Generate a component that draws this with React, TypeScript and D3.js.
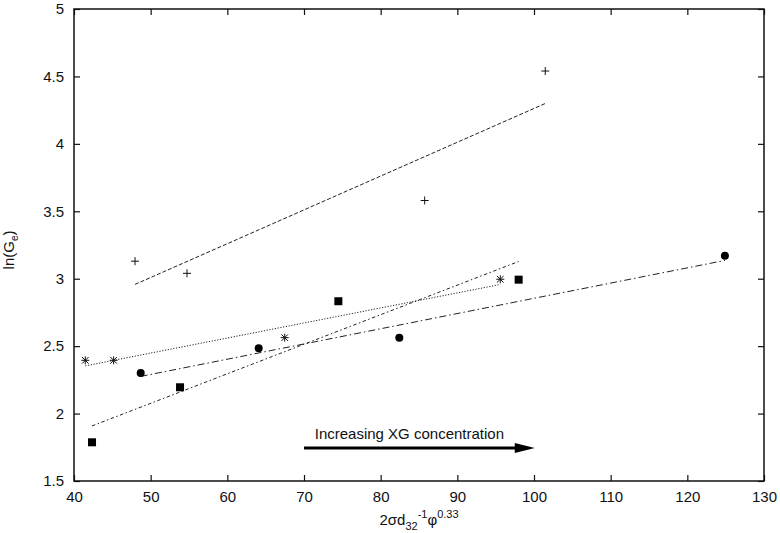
import React, { useRef, useEffect } from 'react';
import * as d3 from 'd3';

// x = 2σd32^-1 φ^0.33, y = ln(Ge)
const plusX = [47.96, 54.74, 85.74, 101.47];
const plusY = [3.13, 3.04, 3.58, 4.54];
const starX = [41.47, 45.17, 67.48, 95.6];
const starY = [2.395, 2.395, 2.563, 2.996];
const circleX = [48.7, 64.09, 82.43, 124.9];
const circleY = [2.3, 2.484, 2.563, 3.17];
const squareX = [42.35, 53.83, 74.48, 98.0];
const squareY = [1.787, 2.195, 2.833, 2.993];

const xTicks = [40, 50, 60, 70, 80, 90, 100, 110, 120, 130];
const yTicks = [1.5, 2, 2.5, 3, 3.5, 4, 4.5, 5];

// arrow annotation, in data units
const arrowX = [70, 100.1];
const arrowY = 1.745;
const arrowLabel = 'Increasing XG concentration';

const W = 780;
const H = 533;
const FONT = '"Liberation Sans", Arial, Helvetica, sans-serif';

const series = [
  { xs: plusX, ys: plusY, marker: 'plus', dash: '4,2' },
  { xs: starX, ys: starY, marker: 'star', dash: '1.2,1.6' },
  { xs: circleX, ys: circleY, marker: 'circle', dash: '7,3,1.5,3' },
  { xs: squareX, ys: squareY, marker: 'square', dash: '3.5,2.5,1.5,2.5' },
];

// least-squares line over the x range of the points
function fit(xs: number[], ys: number[]) {
  const mx = d3.mean(xs)!;
  const my = d3.mean(ys)!;
  const sxy = d3.sum(xs, (x, i) => (x - mx) * (ys[i] - my));
  const sxx = d3.sum(xs, (x) => (x - mx) * (x - mx));
  const b = sxy / sxx;
  const [x0, x1] = d3.extent(xs) as [number, number];
  return [[x0, my + b * (x0 - mx)], [x1, my + b * (x1 - mx)]];
}

const App = () => {
  const svgRef = useRef<SVGSVGElement>(null);

  useEffect(() => {
    const svg = d3.select(svgRef.current);
    svg.selectAll('*').remove();

    const margin = { left: 74, right: 16, top: 9, bottom: 52 };
    const x = d3.scaleLinear().domain([40, 130]).range([margin.left, W - margin.right]);
    const y = d3.scaleLinear().domain([1.5, 5]).range([H - margin.bottom, margin.top]);

    // frame
    svg.append('rect')
      .attr('x', x(40)).attr('y', y(5))
      .attr('width', x(130) - x(40)).attr('height', y(1.5) - y(5))
      .attr('fill', 'none').attr('stroke', '#111').attr('stroke-width', 1.5);

    const styleAxis = (g: any) => {
      g.select('.domain').remove();
      g.selectAll('line').attr('stroke', '#111').attr('stroke-width', 1.2);
      g.selectAll('text').attr('fill', '#111').style('font-family', FONT).style('font-size', '15px');
    };

    svg.append('g').attr('transform', `translate(0,${y(1.5)})`)
      .call(d3.axisBottom(x).tickValues(xTicks).tickSizeInner(-6).tickSizeOuter(0).tickPadding(10).tickFormat(d3.format('d')))
      .call(styleAxis);
    svg.append('g').attr('transform', `translate(0,${y(5)})`)
      .call(d3.axisTop(x).tickValues(xTicks).tickSizeInner(-6).tickSizeOuter(0).tickFormat(() => ''))
      .call(styleAxis);
    svg.append('g').attr('transform', `translate(${x(40)},0)`)
      .call(d3.axisLeft(y).tickValues(yTicks).tickSizeInner(-6).tickSizeOuter(0).tickPadding(10).tickFormat(d3.format('')))
      .call(styleAxis);
    svg.append('g').attr('transform', `translate(${x(130)},0)`)
      .call(d3.axisRight(y).tickValues(yTicks).tickSizeInner(-6).tickSizeOuter(0).tickFormat(() => ''))
      .call(styleAxis);

    // fit lines
    const line = d3.line<number[]>().x((d) => x(d[0])).y((d) => y(d[1]));
    series.forEach((s) => {
      svg.append('path')
        .attr('d', line(fit(s.xs, s.ys)))
        .attr('fill', 'none')
        .attr('stroke', '#222')
        .attr('stroke-width', 1)
        .attr('stroke-dasharray', s.dash);
    });

    // markers
    series.forEach((s) => {
      const g = svg.append('g');
      s.xs.forEach((xv, i) => {
        const px = x(xv);
        const py = y(s.ys[i]);
        if (s.marker === 'plus') {
          g.append('path').attr('d', `M${px - 4},${py}H${px + 4}M${px},${py - 4}V${py + 4}`)
            .attr('stroke', '#111').attr('stroke-width', 1);
        } else if (s.marker === 'star') {
          g.append('path').attr('d', `M${px - 4},${py}H${px + 4}M${px},${py - 4}V${py + 4}M${px - 3.3},${py - 3.3}L${px + 3.3},${py + 3.3}M${px - 3.3},${py + 3.3}L${px + 3.3},${py - 3.3}`)
            .attr('stroke', '#111').attr('stroke-width', 1);
        } else if (s.marker === 'circle') {
          g.append('circle').attr('cx', px).attr('cy', py).attr('r', 4).attr('fill', '#000');
        } else {
          g.append('rect').attr('x', px - 4).attr('y', py - 4).attr('width', 8).attr('height', 8).attr('fill', '#000');
        }
      });
    });

    // arrow annotation
    const ax0 = x(arrowX[0]);
    const ax1 = x(arrowX[1]);
    const ay = y(arrowY);
    svg.append('line')
      .attr('x1', ax0).attr('x2', ax1 - 18).attr('y1', ay).attr('y2', ay)
      .attr('stroke', '#000').attr('stroke-width', 3);
    svg.append('path')
      .attr('d', `M${ax1},${ay}L${ax1 - 20},${ay - 5}L${ax1 - 20},${ay + 5}Z`)
      .attr('fill', '#000');
    svg.append('text')
      .attr('x', (ax0 + ax1) / 2 - 10).attr('y', ay - 9)
      .attr('text-anchor', 'middle')
      .style('font-family', FONT).style('font-size', '15px').attr('fill', '#111')
      .text(arrowLabel);

    // x axis label
    const xl = svg.append('text')
      .attr('x', (x(40) + x(130)) / 2).attr('y', H - 8)
      .attr('text-anchor', 'middle')
      .style('font-family', FONT).style('font-size', '15px').attr('fill', '#111');
    xl.append('tspan').text('2σd');
    xl.append('tspan').attr('dy', 5).style('font-size', '11px').text('32');
    xl.append('tspan').attr('dy', -12).style('font-size', '11px').text('-1');
    xl.append('tspan').attr('dy', 7).text('φ');
    xl.append('tspan').attr('dy', -7).style('font-size', '11px').text('0.33');

    // y axis label
    const yl = svg.append('text')
      .attr('transform', `translate(14,${(y(1.5) + y(5)) / 2 + 5}) rotate(-90)`)
      .attr('text-anchor', 'middle')
      .style('font-family', FONT).style('font-size', '15px').attr('fill', '#111');
    yl.append('tspan').text('ln(G');
    yl.append('tspan').attr('dy', 4).style('font-size', '10px').text('e');
    yl.append('tspan').attr('dy', -4).text(')');
  }, []);

  return (
    <svg ref={svgRef} width={W} height={H} style={{ position: 'absolute', left: 0, top: 0, background: '#fff' }} />
  );
};

export default App;
